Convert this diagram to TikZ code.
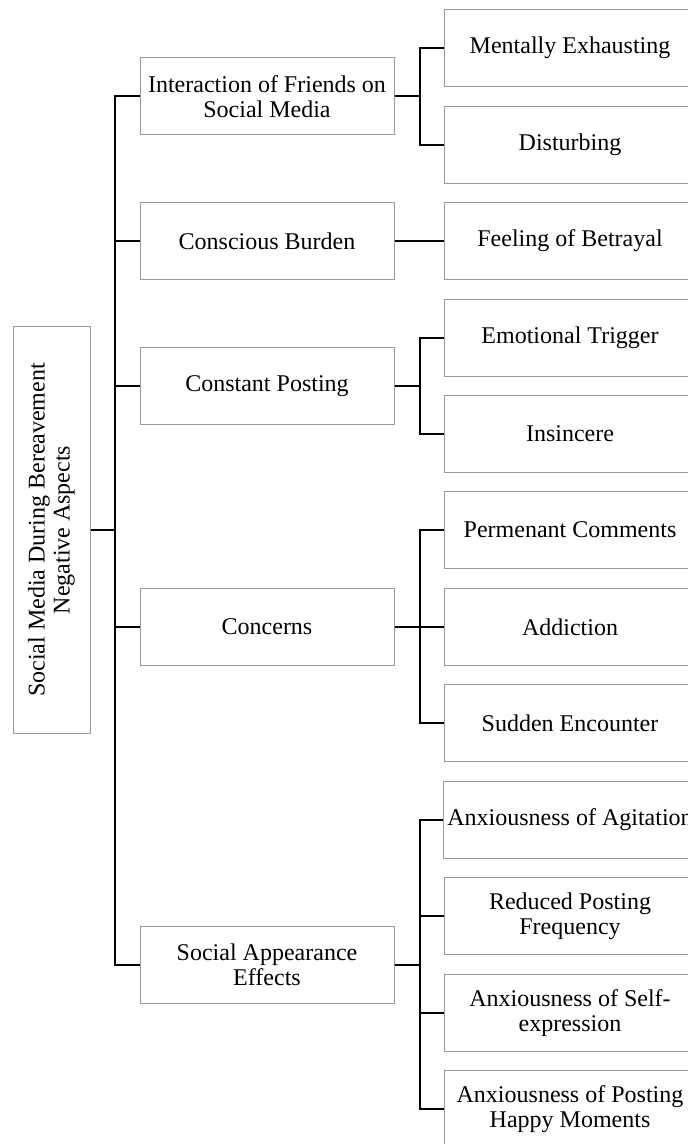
\documentclass[tikz,border=0pt]{standalone}
\usepackage{fontspec}
\setmainfont{Liberation Serif}
\tikzset{
  topic/.style={draw=black!40, line width=0.5pt, align=center,
    minimum width=127pt, minimum height=38.5pt, inner sep=2pt,
    font=\fontsize{12}{12.5}\selectfont},
  theme/.style={topic, minimum width=126pt},
  rootbox/.style={topic, rotate=90, minimum width=203pt, minimum height=38.5pt},
}
\begin{document}
\begin{tikzpicture}[x=0.5pt,y=-0.5pt]
      \useasboundingbox (0,0) rectangle (688,1144);
      \clip (0,0) rectangle (688,1144);
      \draw
        (51.5,530) node[rootbox] (r){Social Media During Bereavement\\Negative Aspects}
        (267,96.5) node[topic] (a){Interaction of Friends on\\Social Media}
        (267,241) node[topic] (b){Conscious Burden}
        (267,386) node[topic] (c){Constant Posting}
        (267,627) node[topic] (d){Concerns}
        (267,965) node[topic] (e){Social Appearance\\Effects}
        (570,48) node[theme] (a1){Mentally Exhausting}
        (570,145) node[theme] (a2){Disturbing}
        (570,241) node[theme] (b1){Feeling of Betrayal}
        (570,338) node[theme] (c1){Emotional Trigger}
        (570,434) node[theme] (c2){Insincere}
        (570,530) node[theme] (d1){Permenant Comments}
        (570,627) node[theme] (d2){Addiction}
        (570,723) node[theme] (d3){Sudden Encounter}
        (570,820) node[theme] (e1){Anxiousness of Agitation}
        (570,916) node[theme] (e2){Reduced Posting\\Frequency}
        (570,1013) node[theme] (e3){Anxiousness of Self-\\expression}
        (570,1109) node[theme] (e4){Anxiousness of Posting\\Happy Moments};
      \coordinate (t) at (115,530);
      \begin{scope}[line width=1pt]
        \draw (r.south) -- (t);
        \draw (t) |- (a.west);
        \draw (t) |- (b.west);
        \draw (t) |- (c.west);
        \draw (t) |- (d.west);
        \draw (t) |- (e.west);
        \draw (a.east) -- ++(25,0) |- (a1.west);
        \draw (a.east) -- ++(25,0) |- (a2.west);
        \draw (b.east) -- (b1.west);
        \draw (c.east) -- ++(25,0) |- (c1.west);
        \draw (c.east) -- ++(25,0) |- (c2.west);
        \draw (d.east) -- ++(25,0) |- (d1.west);
        \draw (d.east) -- (d2.west);
        \draw (d.east) -- ++(25,0) |- (d3.west);
        \draw (e.east) -- ++(25,0) |- (e1.west);
        \draw (e.east) -- ++(25,0) |- (e2.west);
        \draw (e.east) -- ++(25,0) |- (e3.west);
        \draw (e.east) -- ++(25,0) |- (e4.west);
      \end{scope}
    \end{tikzpicture}
\end{document}
